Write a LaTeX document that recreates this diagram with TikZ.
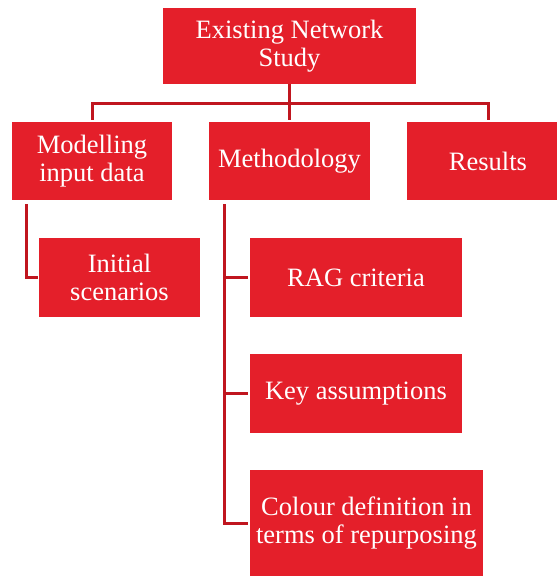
\documentclass[tikz,border=0pt]{standalone}
\usepackage{fontspec}
\setmainfont{Liberation Serif}
\definecolor{boxred}{HTML}{E41F2A}
\definecolor{linered}{HTML}{C0161F}
\begin{document}
\begin{tikzpicture}[x=1pt,y=-1pt,
  box/.style={fill=boxred, draw=none, text=white, align=center, inner sep=0pt,
    font=\fontsize{26.5}{27.5}\selectfont},
  conn/.style={draw=linered, line width=3pt}]
\useasboundingbox (0,0) rectangle (557,576);
\begin{scope}
\clip (0,0) rectangle (557,576);
\node[box, minimum width=253pt, minimum height=76pt] (top) at (289.5,46) {Existing Network\\Study};
\node[box, minimum width=160pt, minimum height=78pt] (mod) at (92,161) {Modelling\\input data};
\node[box, minimum width=161pt, minimum height=78pt] (mth) at (289.5,161) {Methodology};
\node[box, minimum width=162pt, minimum height=78pt] (res) at (488,161) {Results};
\node[box, minimum width=161pt, minimum height=79pt] (ini) at (119.5,277.5) {Initial\\scenarios};
\node[box, minimum width=212pt, minimum height=79pt] (rag) at (356,277.5) {RAG criteria};
\node[box, minimum width=212pt, minimum height=79pt] (key) at (356,393.5) {Key assumptions};
\node[box, minimum width=233pt, minimum height=106pt] (col) at (366.5,523) {Colour definition in\\terms of repurposing};
\end{scope}
\coordinate (busR) at (488,103);
\coordinate (mx) at (224,0);
\coordinate (lx) at (26,0);
\draw[conn, shorten >=2pt] (top.south) -- (mth.north);
\draw[conn, shorten <=2pt, shorten >=2pt] (mod.north) |- (busR) -- (res.north);
\draw[conn, shorten <=4pt, shorten >=2pt] (mth.south -| mx) |- (col.west);
\draw[conn, shorten >=2pt] (rag.west -| mx) -- (rag.west);
\draw[conn, shorten >=2pt] (key.west -| mx) -- (key.west);
\draw[conn, shorten <=4pt, shorten >=1pt] (mod.south -| lx) |- (ini.west);
\end{tikzpicture}
\end{document}
